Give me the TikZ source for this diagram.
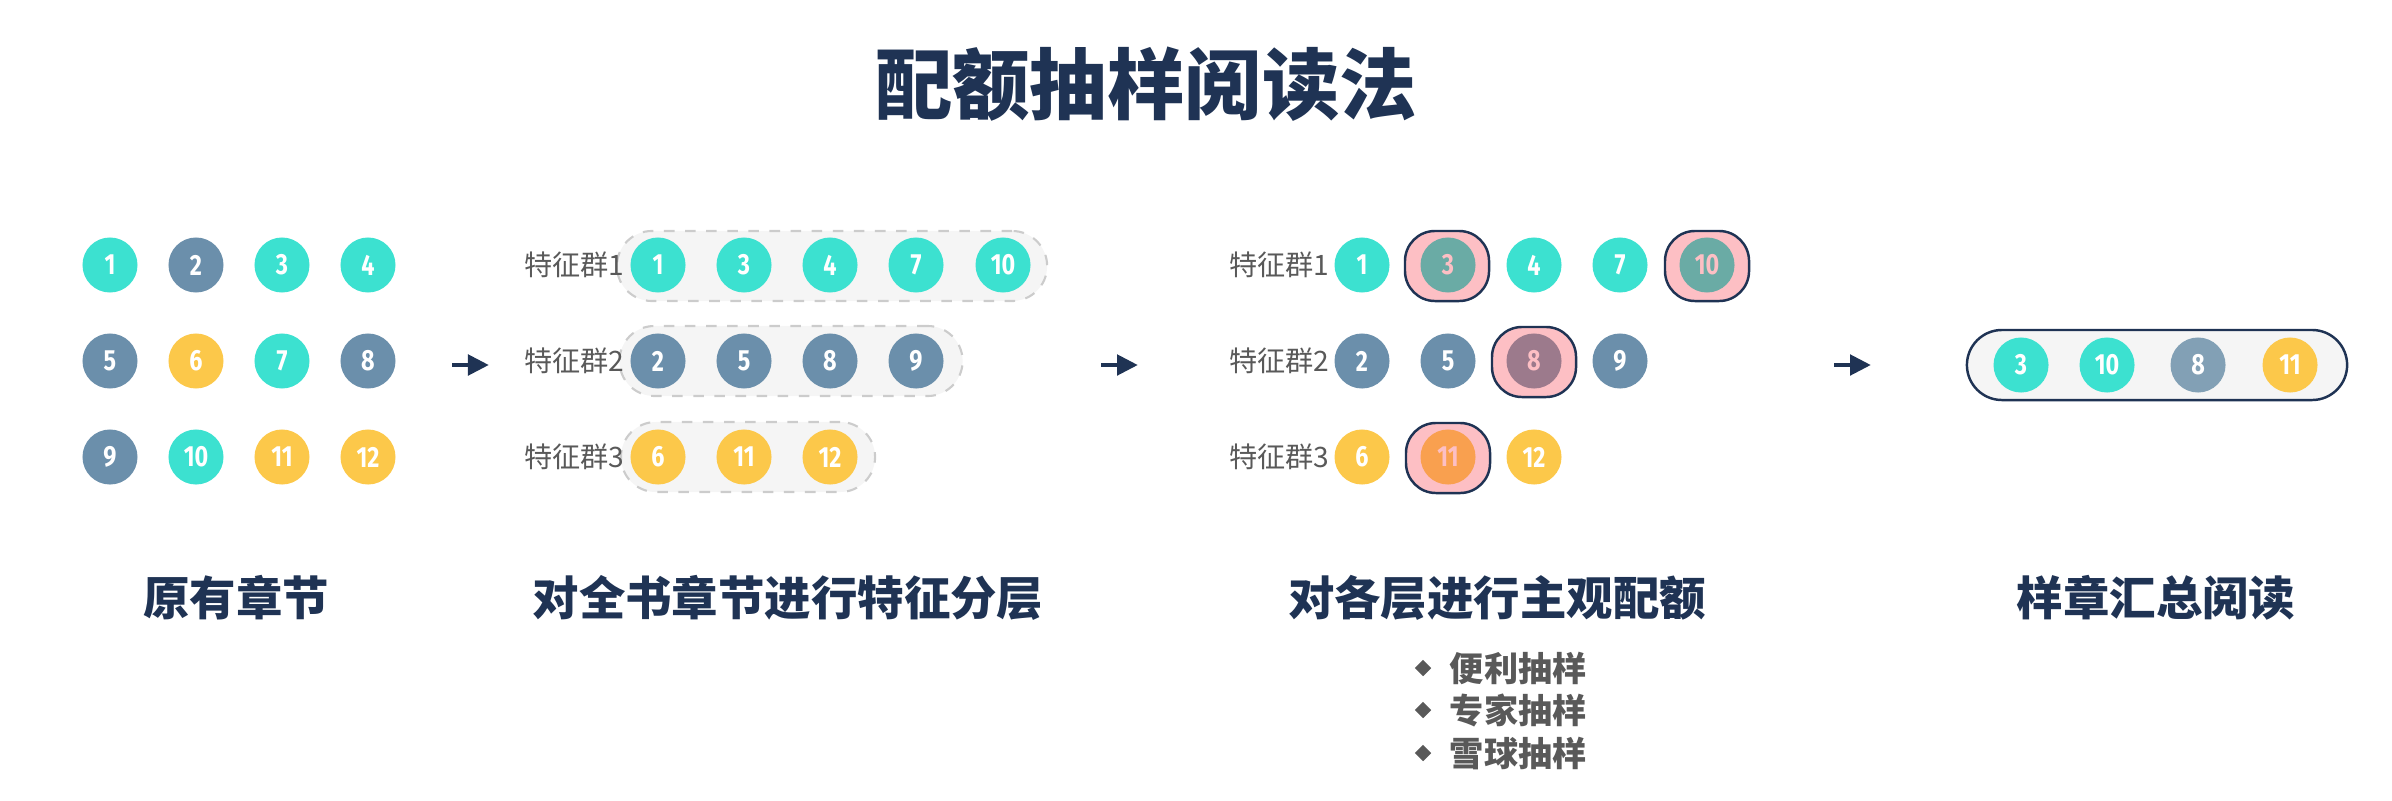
\documentclass[tikz,border=0pt]{standalone}
\usepackage{fontspec}
\newfontfamily\cjk{Noto Sans CJK SC}
\newfontfamily\numfont[FakeStretch=0.8]{Fira Sans}
\usetikzlibrary{arrows.meta,positioning,shapes.geometric}

\definecolor{navy}{HTML}{1F3354}
\definecolor{teal}{HTML}{3CE1D0}
\definecolor{slate}{HTML}{6B8FAB}
\definecolor{amber}{HTML}{FCC84A}
\definecolor{slatelt}{HTML}{82A0B5}
\definecolor{tealdk}{HTML}{6AABA5}
\definecolor{mauve}{HTML}{9C7A8C}
\definecolor{orange}{HTML}{F9A04F}
\definecolor{pinkhl}{HTML}{FDBFC4}
\definecolor{bandgray}{HTML}{F5F5F5}
\definecolor{dashgray}{HTML}{CCCCCC}
\definecolor{txtgray}{HTML}{595959}

\begin{document}
\begin{tikzpicture}[
        x=0.01cm, y=-0.01cm,
        ch/.style={circle, minimum size=0.55cm, inner sep=0pt, text=white, font=\numfont\bfseries\fontsize{8.3}{9}\selectfont},
        tq/.style={ch, fill=teal},
        sl/.style={ch, fill=slate},
        yl/.style={ch, fill=amber},
        chosen/.style={ch, text=pinkhl},
        pick/.style={rectangle, rounded corners=0.3cm, minimum width=0.84cm, minimum height=0.7cm, fill=pinkhl, draw=navy, line width=0.7pt},
        band/.style={rectangle, rounded corners=0.35cm, minimum height=0.7cm, fill=bandgray, draw=dashgray, dashed, line width=0.6pt},
        final/.style={band, solid, draw=navy, line width=0.7pt},
        lbl/.style={anchor=east, inner sep=0pt, text=txtgray, font=\cjk\fontsize{8}{9}\selectfont},
        head/.style={text=navy, font=\cjk\bfseries\fontsize{13.2}{15}\selectfont},
        dot/.style={diamond, fill=txtgray, minimum size=0.17cm, inner sep=0pt},
        item/.style={inner sep=0pt, text=txtgray, font=\cjk\bfseries\fontsize{9.7}{11}\selectfont},
        arr/.style={-{Triangle[length=0.21cm, width=0.2cm]}, line width=1.4pt, navy},
      ]

      \useasboundingbox (0,0) rectangle (2392,800);

      \node[text=navy, font=\cjk\bfseries\fontsize{22}{26}\selectfont] (title) at (1146,84) {配额抽样阅读法};

      % original chapters
      \node[tq] (o1) at (110,265) {1};
      \node[sl] (o2) at (196,265) {2};
      \node[tq] (o3) at (282,265) {3};
      \node[tq] (o4) at (368,265) {4};
      \node[sl] (o5) at (110,361) {5};
      \node[yl] (o6) at (196,361) {6};
      \node[tq] (o7) at (282,361) {7};
      \node[sl] (o8) at (368,361) {8};
      \node[sl] (o9) at (110,457) {9};
      \node[tq] (o10) at (196,457) {10};
      \node[yl] (o11) at (282,457) {11};
      \node[yl] (o12) at (368,457) {12};
      \node[head] (h1) at (236,598) {原有章节};

      \coordinate (a1s) at (452,365);
      \coordinate (a1e) at (489,365);
      \draw[arr] (a1s) -- (a1e);

      % strata
      \node[band, minimum width=4.3cm] (band1) at (832,266) {};
      \node[band, minimum width=3.43cm] (band2) at (791,361) {};
      \node[band, minimum width=2.54cm] (band3) at (748,457) {};
      \node[lbl] (g1) at (625,265) {特征群1};
      \node[lbl] (g2) at (625,361) {特征群2};
      \node[lbl] (g3) at (625,457) {特征群3};
      \node[tq] (s1) at (658,265) {1};
      \node[tq] (s3) at (744,265) {3};
      \node[tq] (s4) at (830,265) {4};
      \node[tq] (s7) at (916,265) {7};
      \node[tq] (s10) at (1003,265) {10};
      \node[sl] (s2) at (658,361) {2};
      \node[sl] (s5) at (744,361) {5};
      \node[sl] (s8) at (830,361) {8};
      \node[sl] (s9) at (916,361) {9};
      \node[yl] (s6) at (658,457) {6};
      \node[yl] (s11) at (744,457) {11};
      \node[yl] (s12) at (830,457) {12};
      \node[head] (h2) at (788,598) {对全书章节进行特征分层};

      \coordinate (a2s) at (1101,365);
      \coordinate (a2e) at (1138,365);
      \draw[arr] (a2s) -- (a2e);

      % quota per stratum
      \node[lbl] (k1) at (1330,265) {特征群1};
      \node[lbl] (k2) at (1330,361) {特征群2};
      \node[lbl] (k3) at (1330,457) {特征群3};
      \node[pick] (m3) at (1447,266) {};
      \node[pick] (m10) at (1707,266) {};
      \node[pick] (m8) at (1534,362) {};
      \node[pick] (m11) at (1448,458) {};
      \node[tq] (q1) at (1362,265) {1};
      \node[chosen, fill=tealdk] (q3) at (1448,265) {3};
      \node[tq] (q4) at (1534,265) {4};
      \node[tq] (q7) at (1620,265) {7};
      \node[chosen, fill=tealdk] (q10) at (1707,265) {10};
      \node[sl] (q2) at (1362,361) {2};
      \node[sl] (q5) at (1448,361) {5};
      \node[chosen, fill=mauve] (q8) at (1534,361) {8};
      \node[sl] (q9) at (1620,361) {9};
      \node[yl] (q6) at (1362,457) {6};
      \node[chosen, fill=orange] (q11) at (1448,457) {11};
      \node[yl] (q12) at (1534,457) {12};
      \node[head] (h3) at (1497,598) {对各层进行主观配额};

      \node[dot] (d1) at (1423,668) {};
      \node[dot] (d2) at (1423,710) {};
      \node[dot] (d3) at (1423,753) {};
      \node[item, right=0.17cm of d1] (b1) {便利抽样};
      \node[item, right=0.17cm of d2] (b2) {专家抽样};
      \node[item, right=0.17cm of d3] (b3) {雪球抽样};

      \coordinate (a3s) at (1834,365);
      \coordinate (a3e) at (1871,365);
      \draw[arr] (a3s) -- (a3e);

      % sample chapters
      \node[final, minimum width=3.8cm] (pool) at (2157,365) {};
      \node[tq] (r3) at (2021,365) {3};
      \node[tq] (r10) at (2107,365) {10};
      \node[ch, fill=slatelt] (r8) at (2198,365) {8};
      \node[yl] (r11) at (2290,365) {11};
      \node[head] (h4) at (2156,598) {样章汇总阅读};

    \end{tikzpicture}
\end{document}
